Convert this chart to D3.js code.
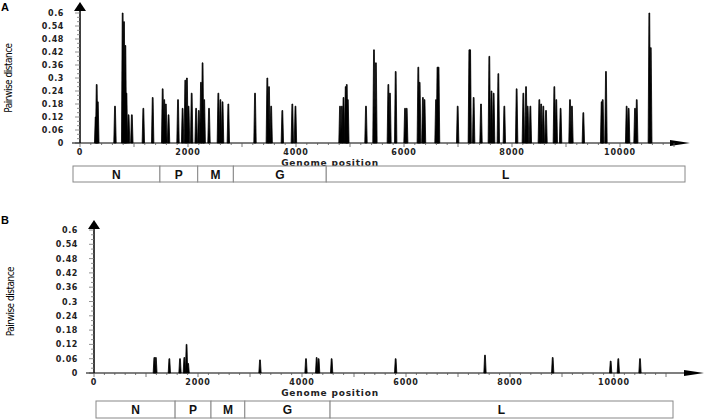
<!DOCTYPE html>
<html><head><meta charset="utf-8">
<script src="https://cdn.jsdelivr.net/npm/d3@7"></script>
<style>body{margin:0;background:#fff}svg{display:block}</style>
</head><body>
<svg id="c" width="708" height="420"></svg>
<script>
const yTicks = [0,0.06,0.12,0.18,0.24,0.3,0.36,0.42,0.48,0.54,0.6];
const yTickLabels = ["0","0.06","0.12","0.18","0.24","0.3","0.36","0.42","0.48","0.54","0.6"];
const xTicks = [0,2000,4000,6000,8000,10000];
const genes = ["N","P","M","G","L"];
const geneStartsA = [0,1480,2180,2840,4560,11210];
const geneStartsB = [0,1560,2250,2900,4540,11070];
// peaks panel A: positions and values
const posA = [290,309,330,648,790,815,840,860,900,960,1173,1346,1531,1560,1590,1640,1815,1900,1950,1980,2010,2068,2150,2200,2240,2270,2300,2389,2562,2600,2640,2747,3241,3469,3500,3540,3747,3932,3990,4815,4850,4880,4920,4940,4960,
 5296,5444,5480,5710,5740,5846,6019,6050,6265,6290,6350,6380,6593,6620,6640,6994,7210,7225,7290,7426,7580,7620,7660,7747,7858,8086,8210,8260,8290,8340,8506,8540,8580,8630,8784,8820,8900,9074,9110,9321,9660,9680,9740,10123,10160,10278,10310,10543,10570];
const valA = [0.12,0.27,0.19,0.17,0.60,0.56,0.45,0.23,0.13,0.13,0.16,0.21,0.25,0.2,0.18,0.13,0.2,0.16,0.29,0.30,0.17,0.23,0.16,0.15,0.28,0.37,0.2,0.16,0.23,0.2,0.19,0.18,0.23,0.3,0.26,0.17,0.15,0.18,0.17,0.17,0.17,0.21,0.26,0.27,0.2,
 0.17,0.43,0.37,0.27,0.23,0.33,0.16,0.16,0.35,0.28,0.21,0.2,0.2,0.35,0.35,0.17,0.43,0.43,0.21,0.18,0.40,0.24,0.23,0.32,0.17,0.25,0.23,0.26,0.17,0.17,0.2,0.18,0.17,0.15,0.26,0.2,0.16,0.2,0.17,0.14,0.19,0.2,0.33,0.17,0.16,0.16,0.2,0.6,0.44];
const posB = [1160,1190,1449,1654,1737,1780,1810,3192,4077,4282,4320,4570,5801,7519,8821,9936,10083,10500];
const valB = [0.065,0.065,0.06,0.06,0.065,0.12,0.04,0.055,0.06,0.065,0.06,0.06,0.06,0.075,0.065,0.05,0.06,0.06];

const svg = d3.select("#c");
const tickFont = "'DejaVu Sans', sans-serif";

function panel(cfg){
  const g = svg.append("g");
  const x = d3.scaleLinear().domain([0,10000]).range([cfg.x0, cfg.x10k]);
  const y = d3.scaleLinear().domain([0,0.6]).range([cfg.y0, cfg.y06]);
  // spikes
  const w = 22;
  g.selectAll("path.sp").data(cfg.pos.map((p,i)=>[p,cfg.val[i]])).join("path")
    .attr("d", d=>`M${x(d[0]-w)},${y(0)}L${x(d[0]-w/3)},${y(d[1])}L${x(d[0]+w/3)},${y(d[1])}L${x(d[0]+w)},${y(0)}Z`)
    .attr("fill","#000").attr("stroke","#000").attr("stroke-width",0.8);
  // y axis
  g.append("line").attr("x1",cfg.x0).attr("x2",cfg.x0).attr("y1",y(0)).attr("y2",cfg.yTop+6).attr("stroke","#000").attr("stroke-width",1.5);
  g.append("path").attr("d",`M${cfg.x0-6},${cfg.yTop+9}L${cfg.x0},${cfg.yTop}L${cfg.x0+6},${cfg.yTop+9}Z`).attr("fill","#000");
  d3.range(0,0.601,0.02).forEach(v=>{
    g.append("line").attr("x1",cfg.x0-(Math.round(v*100)%6===0?5:3)).attr("x2",cfg.x0).attr("y1",y(v)).attr("y2",y(v)).attr("stroke","#777").attr("stroke-width",0.8);
  });
  g.selectAll("text.yt").data(yTicks).join("text")
    .attr("x",cfg.x0-16).attr("y",d=>y(d)+3).attr("text-anchor","end")
    .style("font",`bold 8px ${tickFont}`).style("letter-spacing","0.6px").attr("fill","#222")
    .text((d,i)=>yTickLabels[i]);
  g.append("text").attr("transform",`translate(${cfg.ylx},${(y(0)+y(0.6))/2}) rotate(-90)`)
    .attr("text-anchor","middle").style("font","10px 'Liberation Sans Narrow','DejaVu Sans Condensed',sans-serif").style("letter-spacing","-0.5px")
    .text("Pairwise distance");
  // x axis
  g.append("line").attr("x1",cfg.x0-8).attr("x2",cfg.xEnd-14).attr("y1",y(0)).attr("y2",y(0)).attr("stroke","#000").attr("stroke-width",1.2);
  g.append("path").attr("d",`M${cfg.xEnd-20},${y(0)-3}L${cfg.xEnd},${y(0)}L${cfg.xEnd-20},${y(0)+3}Z`).attr("fill","#000");
  d3.range(0,11001,200).forEach(v=>{
    const major = v%1000===0;
    g.append("line").attr("x1",x(v)).attr("x2",x(v)).attr("y1",y(0)).attr("y2",y(0)+(major?4:2)).attr("stroke","#555").attr("stroke-width",0.8);
  });
  g.selectAll("text.xt").data(xTicks).join("text")
    .attr("x",d=>x(d)).attr("y",cfg.xtY).attr("text-anchor","middle")
    .style("font",`bold 8px ${tickFont}`).style("letter-spacing","0.8px").attr("fill","#222").text(d=>d);
  g.append("text").attr("x",cfg.xlX).attr("y",cfg.xlY).attr("text-anchor","middle")
    .style("font",`bold 9px ${tickFont}`).style("letter-spacing","0.8px").attr("fill","#222").text("Genome position");
  // gene boxes
  const gs = cfg.genes;
  for(let i=0;i<genes.length;i++){
    const a = x(gs[i]) , b = x(gs[i+1]);
    const left = i===0 ? cfg.boxL : a;
    const right = i===genes.length-1 ? cfg.boxR : b;
    g.append("rect").attr("x",left).attr("y",cfg.boxY).attr("width",right-left).attr("height",cfg.boxH)
      .attr("fill","#fff").attr("stroke","#888").attr("stroke-width",1);
    g.append("text").attr("x",(left+right)/2).attr("y",cfg.boxY+cfg.boxH/2+4.5).attr("text-anchor","middle")
      .style("font","bold 12px 'Liberation Sans',sans-serif").attr("fill","#111").text(genes[i]);
  }
  g.append("text").attr("x",cfg.labX).attr("y",cfg.labY).style("font","bold 11px 'Liberation Sans',sans-serif").text(cfg.label);
}

panel({label:"A",labX:1,labY:11,x0:80,x10k:620,xEnd:690,y0:143,y06:13,yTop:2,ylx:12,xtY:155,xlX:330,xlY:166,
  pos:posA,val:valA,genes:geneStartsA,boxL:73,boxR:685,boxY:166,boxH:16});
panel({label:"B",labX:1,labY:224,x0:94,x10k:614,xEnd:704,y0:373,y06:230,yTop:220,ylx:14,xtY:385,xlX:330,xlY:396,
  pos:posB,val:valB,genes:geneStartsB,boxL:96,boxR:673,boxY:401,boxH:17});
</script>
</body></html>
